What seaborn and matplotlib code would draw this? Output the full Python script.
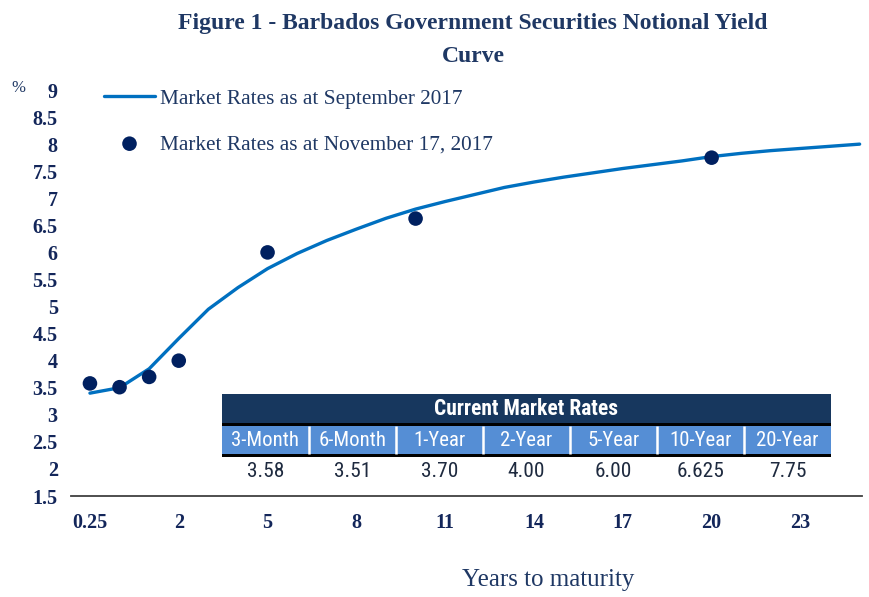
import matplotlib
matplotlib.use("Agg")
import matplotlib.pyplot as plt
import seaborn as sns
import pandas as pd
from matplotlib import font_manager
from matplotlib.font_manager import FontProperties
from matplotlib.patches import Rectangle

# ---------------- data ----------------
categories = ["0.25", "0.5", "1"] + [str(y) for y in range(2, 26)]
curve_rates = [3.40, 3.50, 3.85, 4.41, 4.95, 5.35, 5.70, 5.98, 6.22, 6.43,
               6.63, 6.80, 6.94, 7.07, 7.20, 7.30, 7.39, 7.47, 7.55, 7.62,
               7.69, 7.77, 7.83, 7.88, 7.92, 7.96, 8.00]
point_maturities = ["0.25", "0.5", "1", "2", "5", "10", "20"]
point_rates = [3.58, 3.51, 3.70, 4.00, 6.00, 6.625, 7.75]
table_labels = ["3-Month", "6-Month", "1-Year", "2-Year", "5-Year", "10-Year", "20-Year"]
x_tick_labels = ["0.25", "2", "5", "8", "11", "14", "17", "20", "23"]
y_ticks = [1.5, 2, 2.5, 3, 3.5, 4, 4.5, 5, 5.5, 6, 6.5, 7, 7.5, 8, 8.5, 9]
y_tick_labels = ["1.5", "2", "2.5", "3", "3.5", "4", "4.5", "5", "5.5", "6",
                 "6.5", "7", "7.5", "8", "8.5", "9"]
series_names = ["Market Rates as at September 2017", "Market Rates as at November 17, 2017"]
title_lines = ["Figure 1 - Barbados Government Securities Notional Yield", "Curve"]
x_title = "Years to maturity"
table_title = "Current Market Rates"

# ---------------- style ----------------
sns.set_theme(style="white")
plt.rcParams["font.family"] = ["Liberation Serif", "DejaVu Serif"]

def _w(v):
    if isinstance(v, str):
        return font_manager.weight_dict.get(v, 400)
    return int(v)

def find_narrow(bold):
    prefs = ["Liberation Sans Narrow", "Roboto Condensed", "Noto Sans Condensed",
             "Open Sans Condensed", "Noto Sans", "Open Sans", "DejaVu Sans", "Roboto"]
    best = None
    best_rank = 1e9
    for f in font_manager.fontManager.ttflist:
        n = f.name
        st = str(f.stretch)
        narrowish = ("Narrow" in n or "Condensed" in n or "condensed" in st)
        if not narrowish or "Serif" in n or "Mono" in n:
            continue
        if f.style != "normal":
            continue
        w = _w(f.weight)
        if bold and w < 600:
            continue
        if not bold and not (350 <= w <= 450):
            continue
        rank = len(prefs)
        for i, p in enumerate(prefs):
            if n.startswith(p):
                rank = i
                break
        if "semi" in st or "extra" in st or "ultra" in st:
            rank += 0.5
        if rank < best_rank:
            best_rank = rank
            best = f
    if best is None:
        return FontProperties(family="Liberation Sans", weight="bold" if bold else "normal")
    return FontProperties(fname=best.fname)

fp_bold = find_narrow(True)
fp_reg = find_narrow(False)

NAVY = "#1F3864"
TICK = "#13265A"
LINE = "#0070C0"
DOT = "#002060"

W, H = 869, 597
fig = plt.figure(figsize=(W / 100, H / 100), dpi=100)
fig.patch.set_facecolor("white")
renderer = fig.canvas.get_renderer()

def fx(px):
    return px / W

def fy(py):
    return 1 - py / H

def fit_width(t, target_px):
    for _ in range(2):
        w = t.get_window_extent(renderer).width
        if w > 0:
            t.set_fontsize(t.get_fontsize() * target_px / w)
    return t.get_fontsize()

ax = fig.add_axes([fx(71), fy(496), fx(862) - fx(71), fy(90) - fy(496)])
ax.set_facecolor("white")

pos_of = {c: i for i, c in enumerate(categories)}
df_curve = pd.DataFrame({"pos": range(len(categories)), "rate": curve_rates})
df_pts = pd.DataFrame({"pos": [pos_of[m] for m in point_maturities], "rate": point_rates})

sns.lineplot(data=df_curve, x="pos", y="rate", color=LINE, linewidth=2.4,
             ax=ax, label=series_names[0])
sns.scatterplot(data=df_pts, x="pos", y="rate", color=DOT, s=110,
                edgecolor="none", linewidth=0, ax=ax, label=series_names[1], zorder=3)

ax.set_xlim(-0.64, 26.08)
ax.set_ylim(1.5, 9)
ax.set_xticks([pos_of[t] for t in x_tick_labels])
ax.set_xticklabels(x_tick_labels)
ax.set_yticks(y_ticks)
ax.set_yticklabels(y_tick_labels)
ax.tick_params(axis="both", length=0, labelsize=14.5, labelcolor=TICK)
ax.tick_params(axis="x", pad=12.5)
ax.tick_params(axis="y", pad=9.5)
for lab in ax.get_xticklabels() + ax.get_yticklabels():
    lab.set_fontweight("bold")
ax.set_xlabel("")
ax.set_ylabel("")
for s in ["top", "right", "left"]:
    ax.spines[s].set_visible(False)
ax.spines["bottom"].set_color("#404040")
ax.spines["bottom"].set_linewidth(1.3)
ax.grid(False)

handles, labels = ax.get_legend_handles_labels()
leg = ax.legend(handles, labels, loc="upper left",
                bbox_to_anchor=(fx(104), fy(89)), bbox_transform=fig.transFigure,
                frameon=False, fontsize=15.3, handlelength=2.4, handletextpad=0.24,
                labelspacing=1.2, borderpad=0, borderaxespad=0)
for t in leg.get_texts():
    t.set_color(NAVY)

# titles
fig.text(fx(473), fy(23), title_lines[0], ha="center", va="center",
         fontsize=17, fontweight="bold", color=NAVY)
fig.text(fx(473), fy(56), title_lines[1], ha="center", va="center",
         fontsize=17, fontweight="bold", color=NAVY)
fig.text(fx(18), fy(88), "%", ha="center", va="center", fontsize=12, color=NAVY)
fig.text(fx(548), fy(580), x_title, ha="center", va="center", fontsize=18, color=NAVY)

# ---------------- table ----------------
tx0, tx1, ty0, ty1 = 221.7, 831.0, 394.0, 486.0
tax = fig.add_axes([fx(tx0), fy(ty1), fx(tx1) - fx(tx0), fy(ty0) - fy(ty1)])
tax.set_xlim(0, len(table_labels))
tax.set_ylim(ty1 - ty0, 0)
tax.axis("off")
n = len(table_labels)
tax.add_patch(Rectangle((0, 0), n, 29, facecolor="#17375E", edgecolor="none"))
tax.add_patch(Rectangle((0, 29), n, 3, facecolor="black", edgecolor="none"))
tax.add_patch(Rectangle((0, 32), n, 28, facecolor="#558ED5", edgecolor="none"))
tax.add_patch(Rectangle((0, 60), n, 3, facecolor="black", edgecolor="none"))
for i in range(1, n):
    tax.plot([i, i], [32, 60], color="white", linewidth=1.8, solid_capstyle="butt")

tt = tax.text(n / 2, 15, table_title, ha="center", va="center", color="white",
              fontproperties=fp_bold, fontsize=14)
fit_width(tt, 184)

label_texts = []
value_texts = []
for i, (lab, v) in enumerate(zip(table_labels, point_rates)):
    s = f"{v:.3f}"
    if s.endswith("0"):
        s = s[:-1]
    label_texts.append(tax.text(i + 0.5, 46.5, lab, ha="center", va="center", color="white",
                                fontproperties=fp_reg, fontsize=14))
    value_texts.append(tax.text(i + 0.5, 77.5, s, ha="center", va="center", color="#1E2A3F",
                                fontproperties=fp_reg, fontsize=14))
size = fit_width(label_texts[0], 68)
for t in label_texts:
    t.set_fontsize(size)
for t in value_texts:
    t.set_fontsize(size * 1.03)

fig.savefig("out.png", dpi=100)
